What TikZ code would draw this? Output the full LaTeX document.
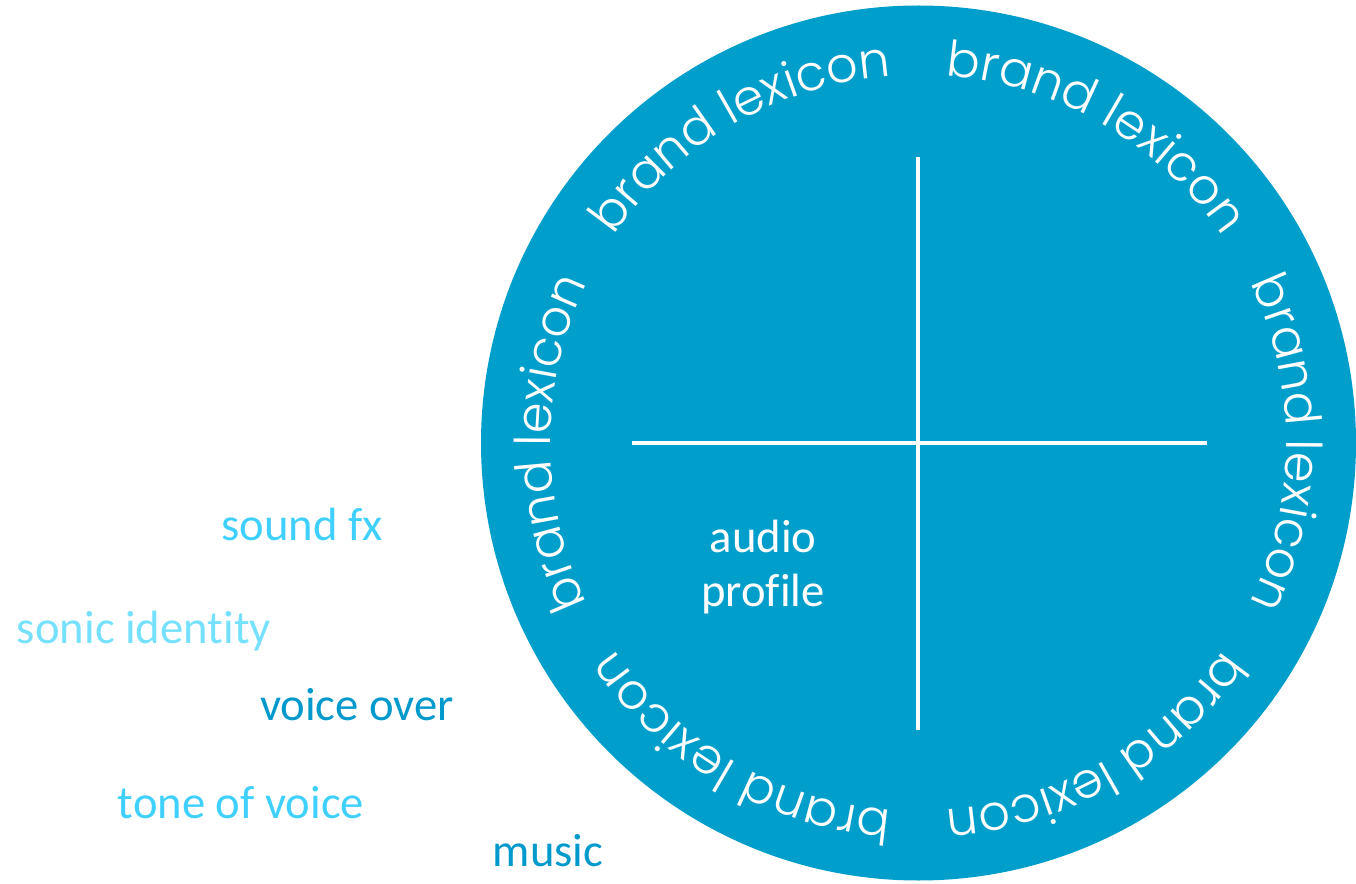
\documentclass[tikz,border=0pt]{standalone}
\usepackage{fontspec}
\setmainfont{Carlito}[Ligatures=NoCommon]
\newfontfamily\lexfont{Poppins Light}
\usetikzlibrary{decorations.text,calc}
\definecolor{wheelblue}{RGB}{0,158,203}
\definecolor{skyblue}{RGB}{64,208,255}
\definecolor{paleblue}{RGB}{118,224,255}
\definecolor{deepblue}{RGB}{0,153,204}
\tikzstyle{term}=[font=\fontsize{35}{41}\selectfont, inner sep=0pt, anchor=base]
\tikzstyle{bar}=[draw=white, line width=3.3pt]
% one "brand lexicon" label bent round the wheel, centred on angle #1
\newcommand{\lexiconarc}[1]
{
  \path[decorate, decoration={text along path, text align=center,
      text={|\lexfont\fontsize{37}{37}\selectfont\color{white}|brand lexicon}}]
    ($(hub)+(#1+35:368)$) arc[start angle=#1+35, end angle=#1-35, radius=368];
}

\begin{document}
\begin{tikzpicture}[x=0.75pt, y=0.75pt]
	\useasboundingbox (0,0) rectangle (1356,883);
	\coordinate (hub) at (918.5,440);

	% the wheel and its cross
	\fill[wheelblue] (hub) circle[radius=437.5];
	\coordinate (top) at (918,726);
	\coordinate (bottom) at (918,153);
	\coordinate (left) at (632,440);
	\coordinate (right) at (1207,440);
	\draw[bar] (top) -- (bottom);
	\draw[bar] (left) -- (right);

	\foreach \a in {120,60,0,-60,-120,180}
	{
		\lexiconarc{\a}
	}

	\node[term, anchor=center, align=center, text=white] (profile) at (763,316) {audio\\profile};

	% terms outside the wheel
	\node[term, text=skyblue] (soundfx) at (302,343) {sound fx};
	\node[term, text=paleblue] (sonic) at (144,240) {sonic identity};
	\node[term, text=deepblue] (voiceover) at (357,163) {voice over};
	\node[term, text=skyblue] (tone) at (241,65) {tone of voice};
	\node[term, text=deepblue] (music) at (548,17) {music};

\end{tikzpicture}
\end{document}
